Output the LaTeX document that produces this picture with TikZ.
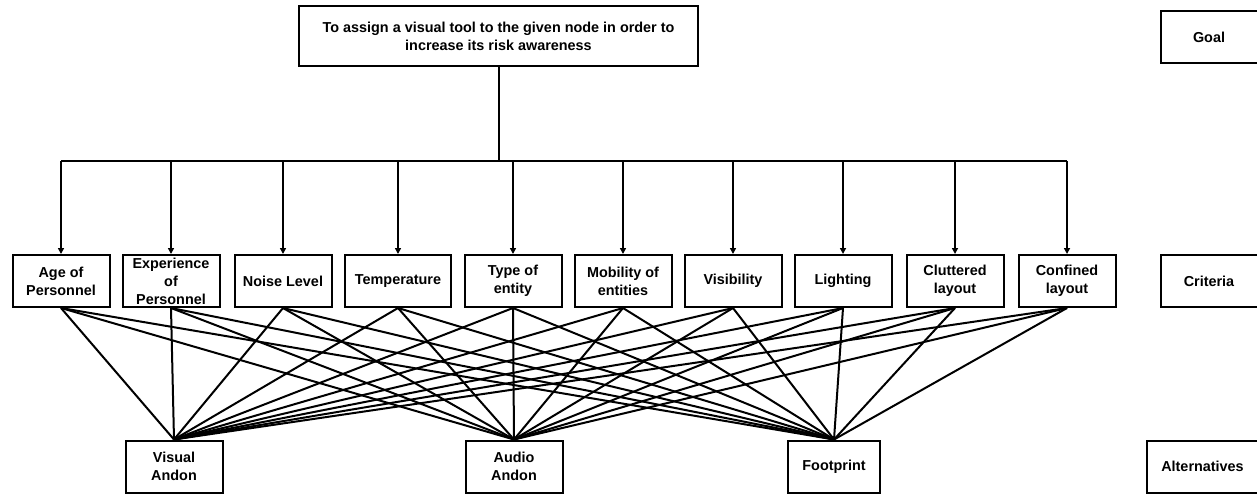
\documentclass[tikz,border=0pt]{standalone}
\usepackage{fontspec}
\setmainfont{Liberation Sans}
\usetikzlibrary{arrows.meta}

\tikzset{
  box/.style={draw, line width=2pt, align=center, minimum width=97pt,
    minimum height=52pt, inner sep=2pt, font=\bfseries\fontsize{14.4}{18}\selectfont},
  link/.style={line width=2pt},
  drop/.style={link, -{Triangle[length=6pt,width=6pt]}},
}

\begin{document}
\begin{tikzpicture}[x=1pt,y=-1pt]
    \useasboundingbox (0,0) rectangle (1257,493);

    % Goal
    \node[box, minimum width=399pt, minimum height=60pt] (goal) at (498.5,36)
        {To assign a visual tool to the given node in order to\\increase its risk awareness};

    % Criteria
    \node[box] (age)   at (61,281)   {Age of\\Personnel};
    \node[box] (exper) at (171,281)  {Experience\\of\\Personnel};
    \node[box] (noise) at (283,281)  {Noise Level};
    \node[box, minimum width=106pt] (temp) at (398,281) {Temperature};
    \node[box] (type)  at (513,281)  {Type of\\entity};
    \node[box] (mob)   at (623,281)  {Mobility of\\entities};
    \node[box] (vis)   at (733,281)  {Visibility};
    \node[box] (light) at (843,281)  {Lighting};
    \node[box] (clutt) at (955,281)  {Cluttered\\layout};
    \node[box] (conf)  at (1067,281) {Confined\\layout};

    % Alternatives
    \node[box] (valt) at (174,466.5) {Visual\\Andon};
    \node[box] (aalt) at (514,466.5) {Audio\\Andon};
    \node[box, minimum width=92pt] (fprint) at (834,466.5) {Footprint};

    % Level labels
    \node[box] (lgoal) at (1209,37)  {Goal};
    \node[box] (lcrit) at (1209,281) {Criteria};
    \node[box, minimum width=111pt] (lalt) at (1202.5,466.5) {Alternatives};

    % Goal to criteria
    \path (goal.south) ++(0,94) coordinate (bus);
    \draw[link] (goal.south) -- (bus);
    \draw[link] (age |- bus) -- (conf |- bus);
    \foreach \c in {age,exper,noise,temp,type,mob,vis,light,clutt,conf}
        \draw[drop] (\c |- bus) -- (\c);

    % Criteria to alternatives
    \foreach \c in {age,exper,noise,temp,type,mob,vis,light,clutt,conf}
        \foreach \a in {valt,aalt,fprint}
            \draw[link] (\c.south) -- (\a.north);
\end{tikzpicture}
\end{document}
